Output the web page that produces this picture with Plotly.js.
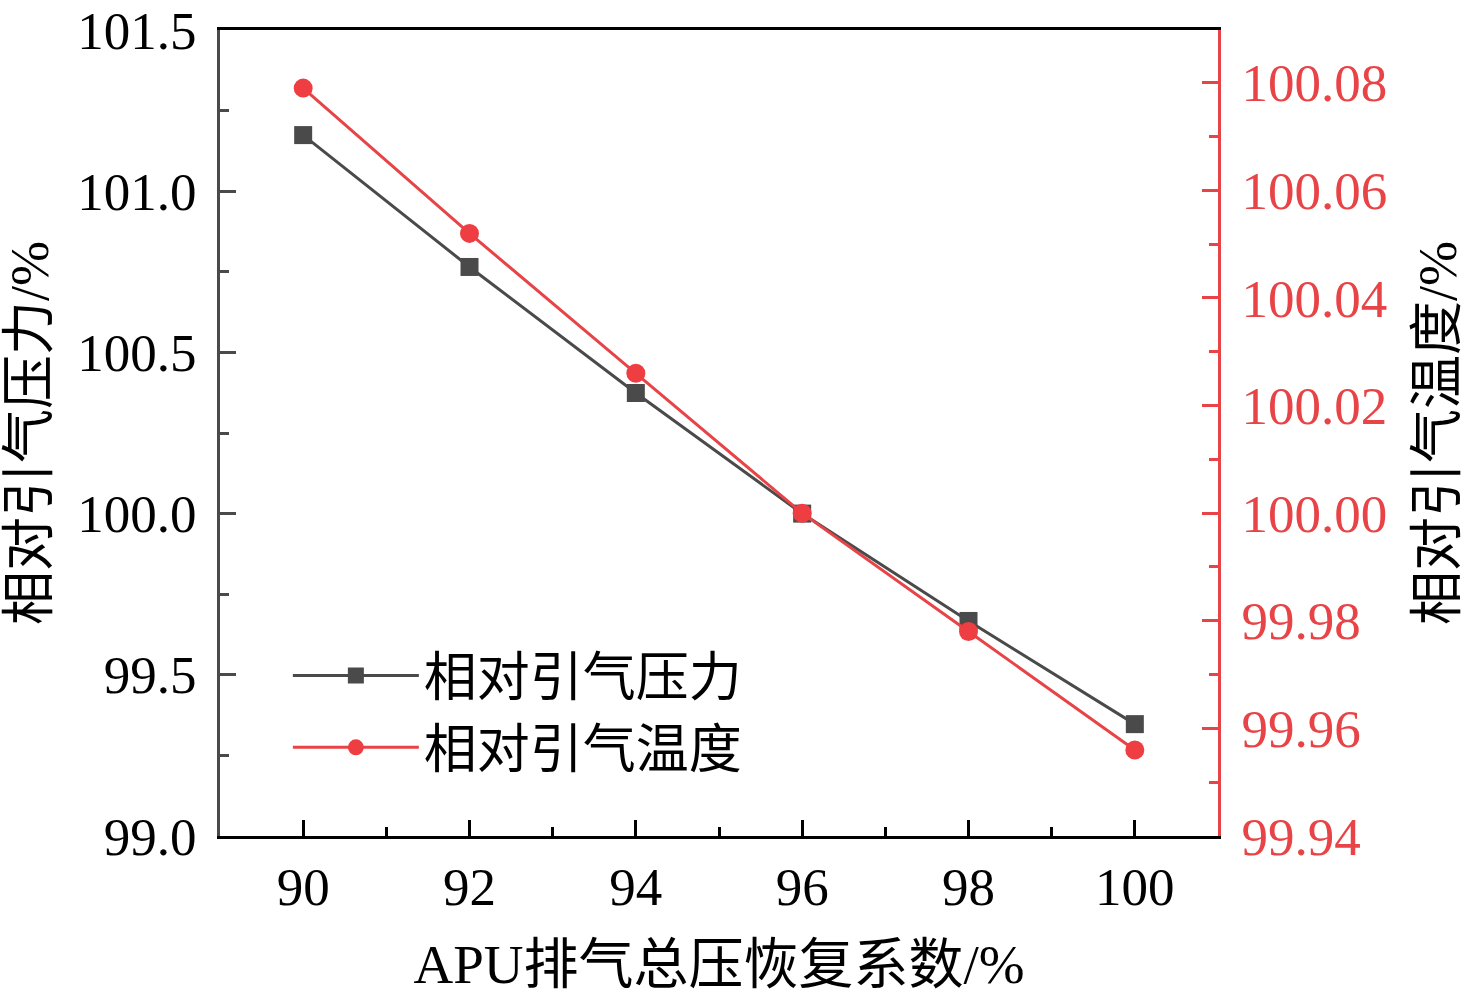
<!DOCTYPE html>
<html>
<head>
<meta charset="utf-8">
<script src="https://cdn.plot.ly/plotly-3.0.1.min.js"></script>
<style>
  html, body { margin: 0; padding: 0; background: #fff; }
  #chart { width: 1476px; height: 1005px; }
</style>
</head>
<body>
<div id="chart"></div>
<script>
// 数据
const recovery = [90, 92, 94, 96, 98, 100];
const pressure = [101.174, 100.765, 100.374, 100.0, 99.667, 99.347];
const temperature = [100.079, 100.052, 100.026, 100.0, 99.978, 99.956];

const pressureName = '相对引气压力';
const temperatureName = '相对引气温度';

const FONT = '"Liberation Serif", "Times New Roman", "Noto Sans CJK SC", serif';
const GREY = '#4a4a4a';
const RED = '#e84346';

const traces = [
    {
        x: recovery,
        y: pressure,
        name: pressureName,
        type: 'scatter',
        mode: 'lines+markers',
        line: { color: GREY, width: 3 },
        marker: { symbol: 'square', size: 18, color: GREY }
    },
    {
        x: recovery,
        y: temperature,
        name: temperatureName,
        type: 'scatter',
        mode: 'lines+markers',
        yaxis: 'y2',
        line: { color: RED, width: 3 },
        marker: { symbol: 'circle', size: 19, color: '#ee3e42' }
    }
];

const layout = {
    width: 1476,
    height: 1005,
    margin: { l: 220, r: 258, t: 30, b: 169 },
    paper_bgcolor: '#fff',
    plot_bgcolor: '#fff',
    font: { family: FONT, size: 54, color: '#000' },
    showlegend: true,
    legend: {
        x: 0.068,
        y: 0.25,
        xanchor: 'left',
        yanchor: 'top',
        bgcolor: 'rgba(0,0,0,0)',
        itemwidth: 126,
        font: { family: FONT, size: 53, color: '#000' }
    },
    xaxis: {
        range: [89, 101],
        tickvals: recovery,
        ticks: 'inside',
        ticklen: 16,
        tickwidth: 3,
        tickcolor: '#000',
        showline: true,
        linecolor: '#000',
        linewidth: 3,
        mirror: true,
        showgrid: false,
        zeroline: false,
        ticklabelstandoff: 2,
        tickfont: { family: FONT, size: 53, color: '#000' },
        minor: { dtick: 1, ticks: 'inside', ticklen: 9, tickwidth: 3, tickcolor: '#000', showgrid: false },
        title: { text: 'APU排气总压恢复系数/%', font: { family: FONT, size: 55, color: '#000' }, standoff: 30 }
    },
    yaxis: {
        range: [99, 101.5],
        dtick: 0.5,
        tick0: 99,
        tickformat: '.1f',
        ticks: 'inside',
        ticklen: 16,
        tickwidth: 3,
        tickcolor: GREY,
        showline: true,
        linecolor: GREY,
        linewidth: 3,
        showgrid: false,
        zeroline: false,
        ticklabelstandoff: 10,
        tickfont: { family: FONT, size: 53, color: '#000' },
        minor: { dtick: 0.25, ticks: 'inside', ticklen: 9, tickwidth: 3, tickcolor: GREY, showgrid: false },
        title: { text: '相对引气压力/%', font: { family: FONT, size: 54, color: '#000' }, standoff: 18 }
    },
    yaxis2: {
        overlaying: 'y',
        side: 'right',
        range: [99.94, 100.0898],
        dtick: 0.02,
        tick0: 99.94,
        tickformat: '.2f',
        ticks: 'inside',
        ticklen: 16,
        tickwidth: 3,
        tickcolor: RED,
        showline: true,
        linecolor: RED,
        linewidth: 3,
        showgrid: false,
        zeroline: false,
        ticklabelstandoff: 10,
        tickfont: { family: FONT, size: 53, color: RED },
        minor: { dtick: 0.01, ticks: 'inside', ticklen: 9, tickwidth: 3, tickcolor: RED, showgrid: false },
        title: { text: '相对引气温度/%', font: { family: FONT, size: 54, color: '#000' }, standoff: 32 }
    }
};

Plotly.newPlot('chart', traces, layout, { displayModeBar: false, staticPlot: true });
</script>
</body>
</html>
